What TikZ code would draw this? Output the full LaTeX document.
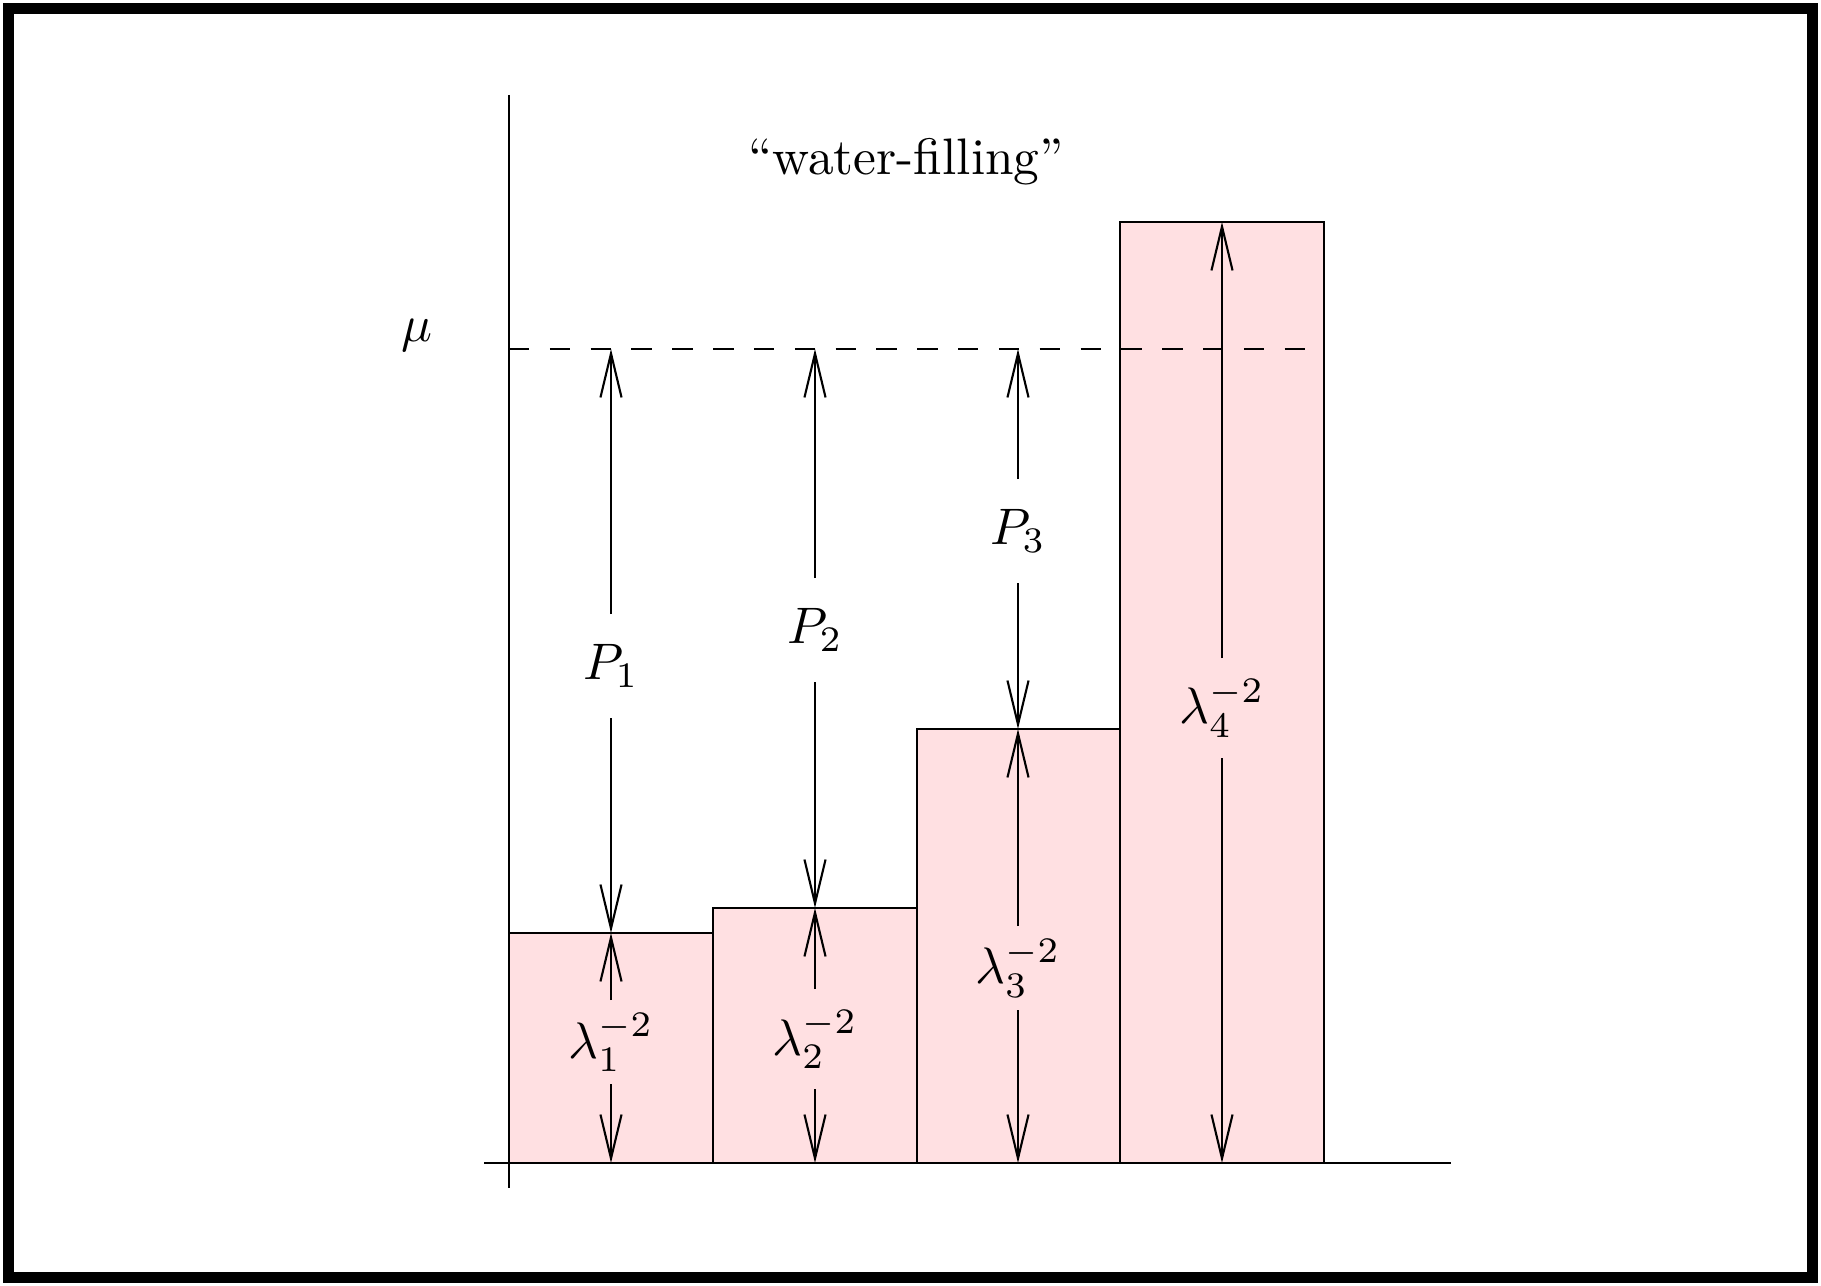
\documentclass[tikz,border=0pt]{standalone}
\usepackage{graphicx}
\usepackage{tikz}
\usetikzlibrary{arrows.meta}
\definecolor{water}{HTML}{FFE0E2}
\newcommand{\enlarged}[1]{\scalebox{1.46}{#1}}
\tikzset{
  frame/.style    = {draw=black, line width=0.11cm},
  axis/.style     = {draw=black, line width=0.6pt},
  barbox/.style   = {draw=black, fill=water, line width=0.6pt},
  level/.style    = {draw=black, line width=0.6pt, dash pattern=on 2.04mm off 2.04mm},
  dim/.style      = {-{Straight Barb[length=12.5pt, width=6pt]}, draw=black, line width=0.6pt},
  lab/.style      = {anchor=base, inner xsep=1pt, inner ysep=0.2cm},
  labwide/.style  = {lab, inner ysep=0.3cm},
  labtight/.style = {lab, inner ysep=0.12cm},
}
\begin{document}
\begin{tikzpicture}[x=0.01cm, y=-0.01cm]
  \useasboundingbox (0,0) rectangle (1821,1286);
  \draw[frame] (8.5,8.5) rectangle (1812.5,1277.5);

  % channels
  \draw[barbox] (509,1163) rectangle (713,933);
  \draw[barbox] (713,1163) rectangle (917,908);
  \draw[barbox] (917,1163) rectangle (1120,729);
  \draw[barbox] (1120,1163) rectangle (1324,222);

  % axes and water level
  \draw[axis] (484,1163) -- (1451,1163);
  \draw[axis] (509,95) -- (509,1188);
  \draw[level] (509,349) -- (1324,349);

  \node[lab] (mu) at (417,342) {\enlarged{$\mu$}};
  \node[lab] (title) at (906,175) {\enlarged{\textquotedblleft water-filling\textquotedblright}};

  % end points on level, bar tops and ground
  \coordinate (mu1) at (611,349);
  \coordinate (mu2) at (815,349);
  \coordinate (mu3) at (1018,349);
  \coordinate (top1) at (611,933);
  \coordinate (top2) at (815,908);
  \coordinate (top3) at (1018,729);
  \coordinate (top4) at (1222,222);
  \coordinate (g1) at (611,1163);
  \coordinate (g2) at (815,1163);
  \coordinate (g3) at (1018,1163);
  \coordinate (g4) at (1222,1163);

  % powers
  \node[labwide] (p1) at (611,680) {\enlarged{$P_1$}};
  \node[labwide] (p2) at (815,644) {\enlarged{$P_2$}};
  \node[labwide] (p3) at (1018,545) {\enlarged{$P_3$}};
  \draw[dim] (p1.north) -- (mu1);
  \draw[dim] (p1.south) -- (top1);
  \draw[dim] (p2.north) -- (mu2);
  \draw[dim] (p2.south) -- (top2);
  \draw[dim] (p3.north) -- (mu3);
  \draw[dim] (p3.south) -- (top3);

  % noise levels
  \node[labtight] (l1) at (611,1058) {\enlarged{$\lambda_1^{-2}$}};
  \node[lab] (l2) at (815,1055) {\enlarged{$\lambda_2^{-2}$}};
  \node[labtight] (l3) at (1018,984) {\enlarged{$\lambda_3^{-2}$}};
  \node[lab] (l4) at (1222,724) {\enlarged{$\lambda_4^{-2}$}};
  \draw[dim] (l1.north) -- (top1);
  \draw[dim] (l1.south) -- (g1);
  \draw[dim] (l2.north) -- (top2);
  \draw[dim] (l2.south) -- (g2);
  \draw[dim] (l3.north) -- (top3);
  \draw[dim] (l3.south) -- (g3);
  \draw[dim] (l4.north) -- (top4);
  \draw[dim] (l4.south) -- (g4);
\end{tikzpicture}
\end{document}
